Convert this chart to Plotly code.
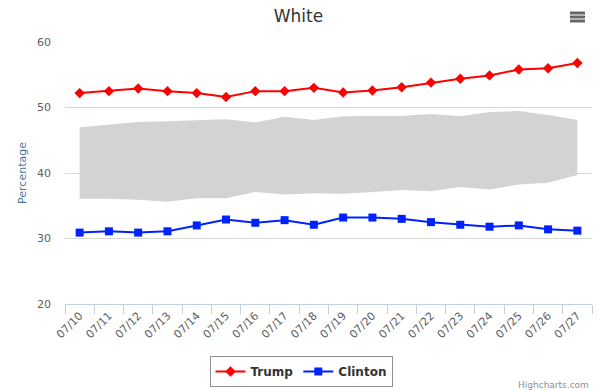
import plotly.graph_objects as go

dates = ["07/10", "07/11", "07/12", "07/13", "07/14", "07/15", "07/16", "07/17", "07/18",
         "07/19", "07/20", "07/21", "07/22", "07/23", "07/24", "07/25", "07/26", "07/27"]
trump = [52.2, 52.5, 52.9, 52.5, 52.2, 51.6, 52.5, 52.5, 53.0,
         52.3, 52.6, 53.1, 53.8, 54.4, 54.9, 55.8, 56.0, 56.8]
clinton = [30.9, 31.1, 30.9, 31.1, 32.0, 32.9, 32.4, 32.8, 32.1,
           33.2, 33.2, 33.0, 32.5, 32.1, 31.8, 32.0, 31.4, 31.2]
range_low = [36.05, 36.05, 35.9, 35.6, 36.15, 36.15, 37.1, 36.7, 36.9,
             36.85, 37.1, 37.4, 37.2, 37.85, 37.5, 38.25, 38.5, 39.7]
range_high = [47.0, 47.4, 47.8, 47.9, 48.0, 48.2, 47.7, 48.6, 48.1,
              48.65, 48.7, 48.7, 49.0, 48.65, 49.3, 49.45, 48.85, 48.1]

FONT = "DejaVu Sans"
W, H = 597, 390
L, R, T, B = 65, 5, 42, 86
PW, PH = W - L - R, H - T - B

fig = go.Figure()
fig.add_trace(go.Scatter(x=dates, y=range_low, mode="lines", line=dict(width=0, color="#d3d3d3"),
                         showlegend=False, hoverinfo="skip"))
fig.add_trace(go.Scatter(x=dates, y=range_high, mode="lines", line=dict(width=0, color="#d3d3d3"),
                         fill="tonexty", fillcolor="#d3d3d3", showlegend=False, hoverinfo="skip"))
fig.add_trace(go.Scatter(x=dates, y=trump, name="Trump", mode="lines+markers",
                         line=dict(color="#ff0000", width=2),
                         marker=dict(symbol="diamond", size=8, color="#ff0000")))
fig.add_trace(go.Scatter(x=dates, y=clinton, name="Clinton", mode="lines+markers",
                         line=dict(color="#0022ff", width=2),
                         marker=dict(symbol="square", size=8, color="#0022ff")))

fig.update_layout(
    width=W, height=H,
    margin=dict(l=L, r=R, t=T, b=B, autoexpand=False),
    paper_bgcolor="white", plot_bgcolor="white",
    font=dict(family=FONT, color="#606060", size=11),
    title=dict(text="White", x=0.5, xref="container", xanchor="center", y=1 - 16 / H, yanchor="middle",
               font=dict(size=17, color="#333333", family=FONT)),
    showlegend=True,
    legend=dict(orientation="h", traceorder="normal",
                x=(301 - L) / PW, xanchor="center", y=(T + PH - 356) / PH, yanchor="top",
                bordercolor="#909090", borderwidth=1, itemwidth=30, tracegroupgap=0,
                font=dict(size=12, color="#333333", family=FONT, weight="bold")),
    xaxis=dict(type="category", range=[-0.5, 17.5], tickson="boundaries", automargin=False,
               ticks="outside", ticklen=9, tickcolor="#C0D0E0", tickwidth=1,
               showline=True, linecolor="#C0D0E0", linewidth=1,
               showgrid=False, tickangle=-45, tickfont=dict(size=11, color="#606060"),
               fixedrange=True),
    yaxis=dict(range=[20, 60], dtick=10, showgrid=True, gridcolor="#D8D8D8", gridwidth=1,
               zeroline=False, showline=False, ticks="", ticklabelstandoff=13, automargin=False,
               tickfont=dict(size=11, color="#606060"),
               title=dict(text="Percentage", font=dict(size=11, color="#4d759e"), standoff=8),
               fixedrange=True),
    hovermode="x",
)

# credits
fig.add_annotation(text="Highcharts.com", xref="paper", yref="paper",
                   x=(591 - L) / PW, y=(T + PH - 378) / PH, xanchor="right", yanchor="top",
                   showarrow=False, font=dict(size=9, color="#909090", family=FONT))

# export menu icon (three bars)
for yy in (13, 17, 21):
    fig.add_shape(type="line", xref="paper", yref="paper",
                  x0=(570 - L) / PW, x1=(585 - L) / PW,
                  y0=(T + PH - yy) / PH, y1=(T + PH - yy) / PH,
                  line=dict(color="#666666", width=3))

fig.write_html("out.html", config={"displayModeBar": False},
               post_script="document.body.style.margin='0';document.body.style.overflow='hidden';")
